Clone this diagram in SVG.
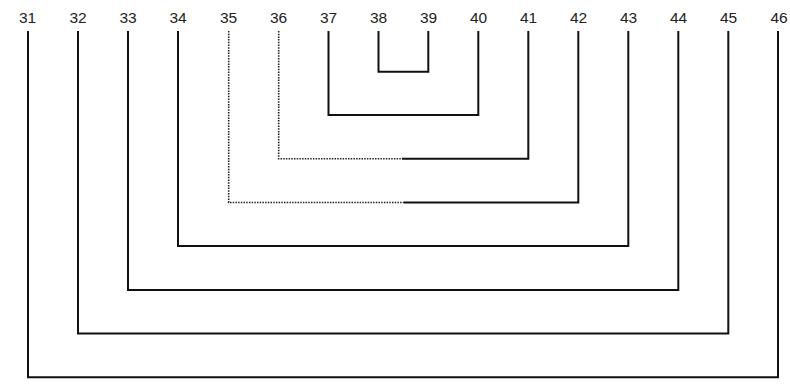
<svg xmlns="http://www.w3.org/2000/svg" width="790" height="392" viewBox="0 0 790 392">
<style>
text{font-family:"Liberation Sans",Arial,sans-serif;font-size:15.5px;fill:#222;text-anchor:middle}
.s{fill:none;stroke:#111;stroke-width:2;stroke-linejoin:miter}
.d{fill:none;stroke:#222;stroke-width:1.6;stroke-dasharray:1.5 1.2}
</style>
<rect width="790" height="392" fill="#fff"/>
<g id="labels">
<g id="n31"><text x="27.5" y="23.3">31</text></g>
<g id="n32"><text x="78" y="23.3">32</text></g>
<g id="n33"><text x="128" y="23.3">33</text></g>
<g id="n34"><text x="178" y="23.3">34</text></g>
<g id="n35"><text x="228.5" y="23.3">35</text></g>
<g id="n36"><text x="278.5" y="23.3">36</text></g>
<g id="n37"><text x="328.5" y="23.3">37</text></g>
<g id="n38"><text x="378.5" y="23.3">38</text></g>
<g id="n39"><text x="428.5" y="23.3">39</text></g>
<g id="n40"><text x="478.5" y="23.3">40</text></g>
<g id="n41"><text x="528.5" y="23.3">41</text></g>
<g id="n42"><text x="578.5" y="23.3">42</text></g>
<g id="n43"><text x="628.5" y="23.3">43</text></g>
<g id="n44"><text x="678.5" y="23.3">44</text></g>
<g id="n45"><text x="728.5" y="23.3">45</text></g>
<g id="n46"><text x="779" y="23.3">46</text></g>
</g>
<g id="connectors">
<path class="s" d="M378.5 31V71.7H428.3V31"/>
<path class="s" d="M328.5 31V115H478.3V31"/>
<path class="d" d="M278.7 31V158.8H402"/>
<path class="s" d="M402 158.8H528.3V31"/>
<path class="d" d="M228.7 31V202.5H404"/>
<path class="s" d="M404 202.5H578.3V31"/>
<path class="s" d="M178 31V246H628.3V31"/>
<path class="s" d="M128 31V290H678.3V31"/>
<path class="s" d="M78 31V333.5H728.3V31"/>
<path class="s" d="M28 31V377.3H778V31"/>
</g>
</svg>
